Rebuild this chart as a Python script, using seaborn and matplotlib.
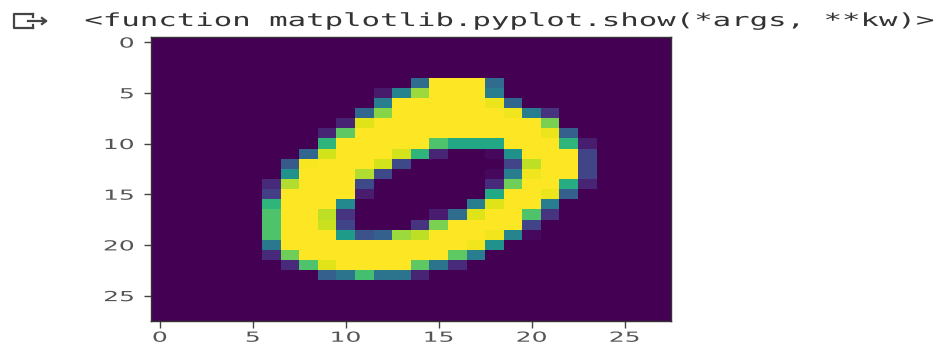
import matplotlib
matplotlib.use("Agg")
import matplotlib.pyplot as plt
import numpy as np
import seaborn as sns
from matplotlib.lines import Line2D
from matplotlib.patheffects import AbstractPathEffect
from matplotlib.transforms import Affine2D

# Pixel values in percent of full scale, one list per image row
Y = 100
blank = [0] * 28
row_04 = [0]*14 + [35, Y, Y, Y, 35] + [0]*9
row_05 = [0]*12 + [7, 45, 85, Y, Y, Y, 42] + [0]*9
row_06 = [0]*12 + [42, Y, Y, Y, Y, Y, 97, 33] + [0]*8
row_07 = [0]*11 + [33, 82, Y, Y, Y, Y, Y, Y, 98, 42, 15] + [0]*6
row_08 = [0]*10 + [10, 95, Y, Y, Y, Y, Y, Y, Y, Y, Y, 80] + [0]*6
row_09 = [0]*9 + [10, 75, Y, Y, Y, Y, Y, Y, Y, Y, Y, Y, 97, 30] + [0]*5
row_10 = [0]*9 + [65, Y, Y, Y, Y, Y, 72, 60, 60, 60, Y, Y, Y, 65, 8] + [0]*4
row_11 = [0]*8 + [33, 93, Y, Y, Y, 93, 65, 10, 0, 0, 2, 50, Y, Y, Y, 20] + [0]*4
row_12 = [0]*7 + [28, 99, Y, Y, Y, 93, 22, 0, 0, 0, 0, 0, 20, 90, Y, Y, 20] + [0]*4
row_13 = [0]*7 + [50, Y, Y, Y, 88, 22, 0, 0, 0, 0, 0, 2, 42, 98, Y, Y, 20] + [0]*4
row_14 = [0]*6 + [12, 88, Y, Y, Y, 22, 0, 0, 0, 0, 0, 0, 12, 78, Y, Y, 62, 10] + [0]*4
row_15 = [0]*6 + [18, Y, Y, Y, Y, 8, 0, 0, 0, 0, 0, 0, 60, Y, Y, 97, 30] + [0]*5
row_16 = [0]*6 + [65, Y, Y, Y, 47, 0, 0, 0, 0, 0, 0, 42, 95, Y, Y, 42] + [0]*6
row_17 = [0]*6 + [72, Y, Y, 90, 15, 0, 0, 0, 0, 8, 35, 95, Y, Y, 72, 15] + [0]*6
row_18 = [0]*6 + [72, Y, Y, 92, 20, 0, 0, 0, 15, 80, Y, Y, Y, Y, 20] + [0]*7
row_19 = [0]*6 + [72, Y, Y, Y, 55, 25, 30, 85, 90, Y, Y, Y, 98, 45, 2] + [0]*7
row_20 = [0]*6 + [40, Y, Y, Y, Y, Y, Y, Y, Y, Y, Y, 98, 50] + [0]*9
row_21 = [0]*6 + [12, 78, Y, Y, Y, Y, Y, Y, Y, Y, 75, 42] + [0]*10
row_22 = [0]*7 + [12, 72, 95, Y, Y, Y, Y, 75, 38, 12] + [0]*11
row_23 = [0]*9 + [30, 38, 70, 38, 38, 10] + [0]*13

tick_labels = [0, 5, 10, 15, 20, 25]
header = "<function matplotlib.pyplot.show(*args, **kw)>"

image = np.array([blank, blank, blank, blank, row_04, row_05, row_06, row_07,
                  row_08, row_09, row_10, row_11, row_12, row_13, row_14, row_15,
                  row_16, row_17, row_18, row_19, row_20, row_21, row_22, row_23,
                  blank, blank, blank, blank], dtype=float) / 100


class Stretch(AbstractPathEffect):
    """The reference screenshot is stretched sideways; so is its text."""

    def __init__(self, sx, anchor="center"):
        super().__init__()
        self.sx, self.anchor = sx, anchor

    def draw_path(self, renderer, gc, tpath, affine, rgbFace=None):
        box = tpath.transformed(affine).get_extents()
        x0 = box.x1 if self.anchor == "right" else 0.5 * (box.x0 + box.x1)
        widen = Affine2D().translate(-x0, 0).scale(self.sx, 1).translate(x0, 0)
        renderer.draw_path(gc, tpath, affine + widen, rgbFace)


W, H = 938, 347
fig = plt.figure(figsize=(W / 100, H / 100), dpi=100, facecolor="white")
ax = fig.add_axes([150.5 / W, 1 - 321 / H, 520.5 / W, 284 / H])
sns.heatmap(image, cmap="viridis", vmin=0, vmax=1, cbar=False, ax=ax,
            xticklabels=False, yticklabels=False)

ticks = np.array(tick_labels) + 0.5
ax.set_xticks(ticks)
ax.set_yticks(ticks)
ax.set_xticklabels(tick_labels, rotation=0)
ax.set_yticklabels(tick_labels, rotation=0)
ax.tick_params(axis="both", length=5, width=1, color="#444444", labelcolor="#555555", labelsize=10)
ax.tick_params(axis="y", pad=7)
ax.tick_params(axis="x", pad=2)
for lab in ax.get_xticklabels():
    lab.set_path_effects([Stretch(1.8)])
for lab in ax.get_yticklabels():
    lab.set_path_effects([Stretch(1.8, "right")])
for s in ax.spines.values():
    s.set_visible(True)
    s.set_linewidth(1)
    s.set_edgecolor("#333333")

fig.text(509.5 / W, 1 - 21 / H, header, family="DejaVu Sans Mono", fontsize=13,
         color="#333333", ha="center", va="center", path_effects=[Stretch(1.7)])

# Colab output icon: open box with an arrow leaving it
icon_strokes = [((33, 14, 14, 33), (13.5, 13.5, 28, 28)),
                ((33, 33), (13.5, 17)), ((33, 33), (25, 28)),
                ((28, 46), (21, 21)), ((42, 46, 42), (18, 21, 24))]
for xs, ys in icon_strokes:
    fig.add_artist(Line2D([x / W for x in xs], [1 - y / H for y in ys],
                          color="#444444", lw=1.6, transform=fig.transFigure))

fig.savefig("out.png", dpi=100, facecolor="white")
